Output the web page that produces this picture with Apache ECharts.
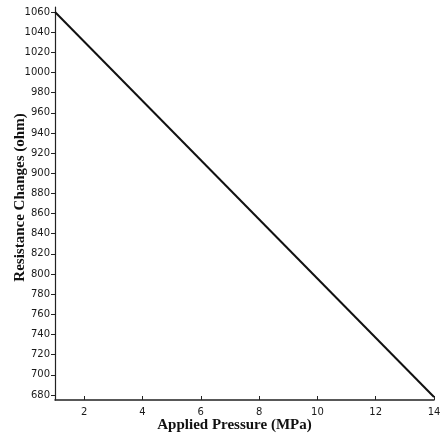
<!DOCTYPE html>
<html><head><meta charset="utf-8">
<script src="https://cdn.jsdelivr.net/npm/echarts@6/dist/echarts.min.js"></script>
<style>html,body{margin:0;padding:0;background:#fff}#c{width:440px;height:436px}</style>
</head><body><div id="c"></div>
<script>
const pressure = [1, 14];
const resistance = [1060, 678];
const xTicks = [2, 4, 6, 8, 10, 12, 14];
const yTicks = [680,700,720,740,760,780,800,820,840,860,880,900,920,940,960,980,1000,1020,1040,1060];

const chart = echarts.init(document.getElementById('c'));
chart.setOption({
  animation: false,
  backgroundColor: '#fff',
  grid: {left: 55, right: 6, top: 7, bottom: 36, containLabel: false, outerBoundsMode: 'none'},
  xAxis: {
    type: 'value', min: 1, max: 14,
    axisLine: {lineStyle: {color: '#222', width: 1.5}},
    axisTick: {inside: true, length: 4, lineStyle: {color: '#222'}, customValues: xTicks},
    axisLabel: {color: '#1a1a1a', fontSize: 10, fontFamily: 'DejaVu Sans', margin: 7,
      customValues: xTicks, formatter: v => String(v)},
    splitLine: {show: false},
    name: 'Applied Pressure (MPa)', nameLocation: 'middle', nameGap: 18, nameMoveOverlap: false,
    nameTextStyle: {fontFamily: 'Liberation Serif', fontWeight: 'bold', fontSize: 15, color: '#111', padding: [0,20,0,0]}
  },
  yAxis: {
    type: 'value', min: 675, max: 1065,
    axisLine: {show: true, lineStyle: {color: '#222', width: 1.2}},
    axisTick: {show: true, length: 4, lineStyle: {color: '#222'}, customValues: yTicks},
    axisLabel: {color: '#1a1a1a', fontSize: 10, fontFamily: 'DejaVu Sans', margin: 5,
      customValues: yTicks, formatter: v => String(v)},
    splitLine: {show: false},
    name: 'Resistance Changes (ohm)', nameLocation: 'middle', nameGap: 27, nameMoveOverlap: false,
    nameTextStyle: {fontFamily: 'Liberation Serif', fontWeight: 'bold', fontSize: 15, color: '#111', padding: [0,0,0,12]}
  },
  series: [{
    type: 'line', symbol: 'none',
    data: pressure.map((p, i) => [p, resistance[i]]),
    lineStyle: {color: '#111', width: 2}
  }]
});
</script></body></html>
